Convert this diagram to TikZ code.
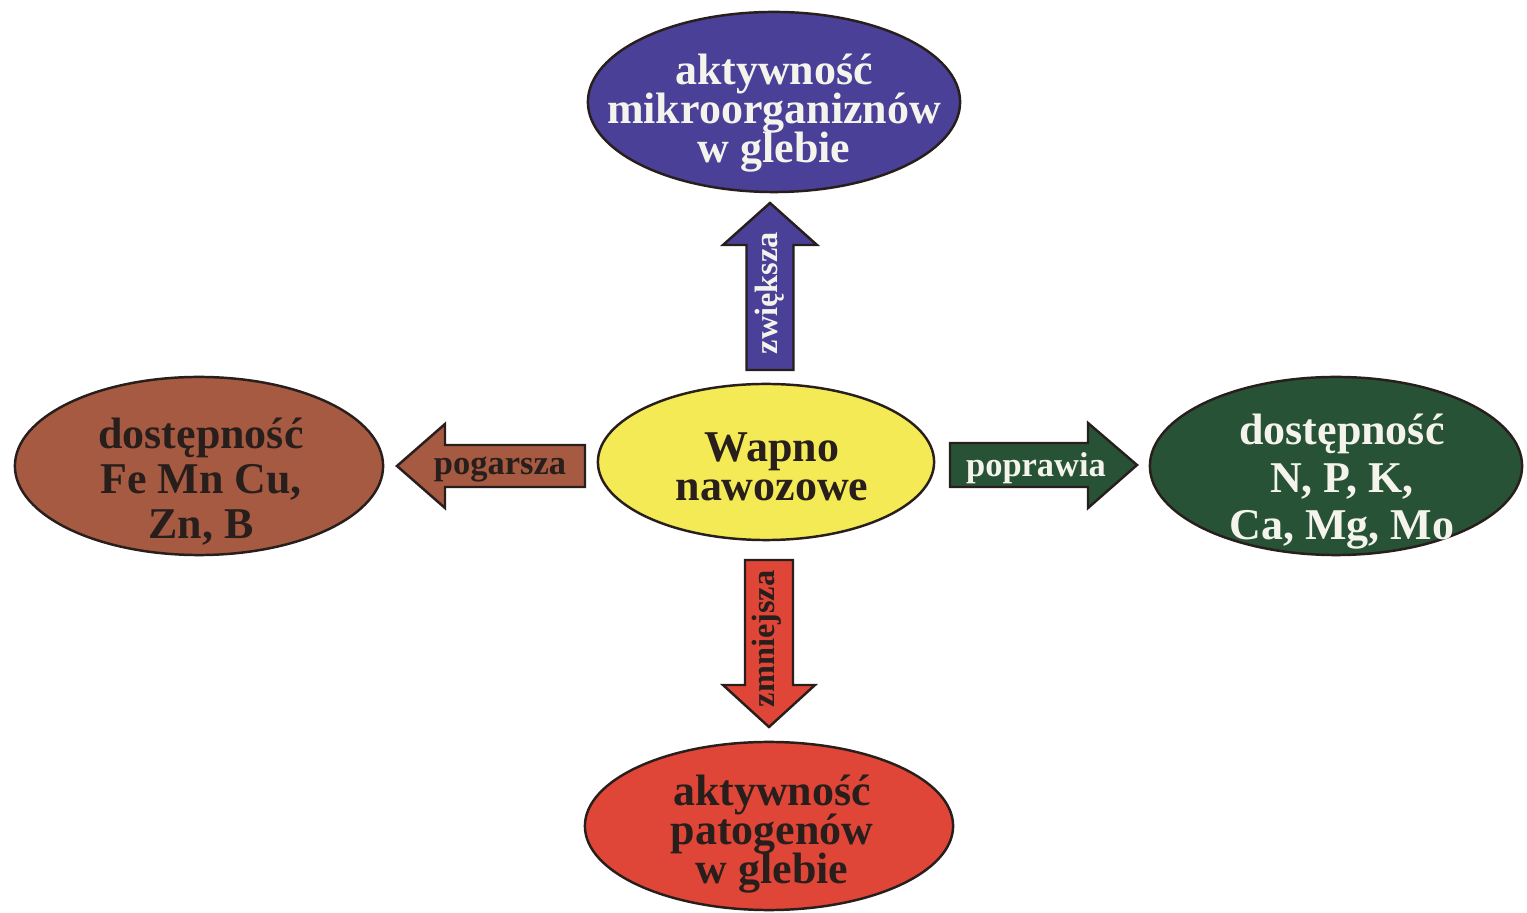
\documentclass[tikz,border=0pt]{standalone}
\usepackage{fontspec}
\setmainfont{Liberation Serif}
\usetikzlibrary{shapes.geometric,calc}
\definecolor{cblue}{RGB}{74,64,152}
\definecolor{cyellow}{RGB}{243,234,85}
\definecolor{cbrown}{RGB}{166,90,66}
\definecolor{cgreen}{RGB}{40,82,54}
\definecolor{cred}{RGB}{224,70,56}
\definecolor{cdark}{RGB}{40,30,28}
\definecolor{clight}{RGB}{244,244,236}
\newcommand{\txtfont}[1]{\fontsize{12.5}{#1}\selectfont\bfseries\lineskiplimit=-50pt\relax}
\tikzset{
  bubble/.style={ellipse, draw=cdark, line width=0.7pt, inner sep=0pt},
  bubbletext/.style={align=center, inner sep=0pt},
  blockarrow/.style={draw=cdark, line width=0.7pt, line join=miter},
  arrowlabel/.style={inner sep=0pt, font=\fontsize{9.8}{11}\selectfont\bfseries},
}
\begin{document}
\begin{tikzpicture}[x=0.01cm,y=-0.01cm]
\useasboundingbox (0,0) rectangle (1527,913);
\fill[white] (0,0) rectangle (1527,913);

% ellipses
\node[bubble, fill=cblue, minimum width=3.72cm, minimum height=1.80cm] (top) at (774,102) {};
\node[bubble, fill=cyellow, minimum width=3.36cm, minimum height=1.56cm] (mid) at (766,462) {};
\node[bubble, fill=cbrown, minimum width=3.68cm, minimum height=1.78cm] (left) at (199,466) {};
\node[bubble, fill=cgreen, minimum width=3.72cm, minimum height=1.78cm] (right) at (1336,466) {};
\node[bubble, fill=cred, minimum width=3.68cm, minimum height=1.68cm] (bot) at (769,826) {};

% texts
\node[bubbletext, text=clight, font=\txtfont{11}] (toptxt) at (774,113)
  {aktywność\\mikroorganiznów\\w glebie};
\node[bubbletext, text=cdark, font=\txtfont{11}] (midtxt) at (772,467)
  {Wapno\\nawozowe};
\node[bubbletext, text=cdark, font=\txtfont{12.8}] (lefttxt) at (201,482)
  {dostępność\\Fe Mn Cu,\\Zn, B};
\node[bubbletext, text=clight, font=\txtfont{13.5}] (righttxt) at (1342,482)
  {dostępność\\N, P, K,\\Ca, Mg, Mo};
\node[bubbletext, text=cdark, font=\txtfont{11}] (bottxt) at (772,834)
  {aktywność\\patogenów\\w glebie};

% arrow end points
\coordinate (upA) at (770,370);  \coordinate (upB) at (770,203);
\coordinate (dnA) at (769,560);  \coordinate (dnB) at (769,727);
\coordinate (lfA) at (585,466);  \coordinate (lfB) at (397,466);
\coordinate (rtA) at (950,465);  \coordinate (rtB) at (1137,465);

% up arrow (blue)
\draw[blockarrow, fill=cblue]
  ($(upA)+(-23.5,0)$) -- ($(upB)+(-23.5,42)$) -- ($(upB)+(-47,42)$) -- (upB)
  -- ($(upB)+(47,42)$) -- ($(upB)+(23.5,42)$) -- ($(upA)+(23.5,0)$) -- cycle;
% down arrow (red)
\draw[blockarrow, fill=cred]
  ($(dnA)+(-24,0)$) -- ($(dnB)+(-24,-42)$) -- ($(dnB)+(-46,-42)$) -- (dnB)
  -- ($(dnB)+(46,-42)$) -- ($(dnB)+(24,-42)$) -- ($(dnA)+(24,0)$) -- cycle;
% left arrow (brown)
\draw[blockarrow, fill=cbrown]
  ($(lfA)+(0,-21)$) -- ($(lfB)+(48,-21)$) -- ($(lfB)+(48,-42)$) -- (lfB)
  -- ($(lfB)+(48,42)$) -- ($(lfB)+(48,21)$) -- ($(lfA)+(0,21)$) -- cycle;
% right arrow (green)
\draw[blockarrow, fill=cgreen]
  ($(rtA)+(0,-22)$) -- ($(rtB)+(-49,-22)$) -- ($(rtB)+(-49,-42)$) -- (rtB)
  -- ($(rtB)+(-49,43)$) -- ($(rtB)+(-49,22)$) -- ($(rtA)+(0,22)$) -- cycle;

% arrow labels
\node[arrowlabel, text=clight, rotate=90, font=\fontsize{9.2}{11}\selectfont\bfseries] (lup) at (770,293) {zwiększa};
\node[arrowlabel, text=cdark, rotate=90, font=\fontsize{9.2}{11}\selectfont\bfseries] (ldn) at (767,639) {zmniejsza};
\node[arrowlabel, text=cdark] (llf) at (500,469) {pogarsza};
\node[arrowlabel, text=clight] (lrt) at (1036,468) {poprawia};
\end{tikzpicture}
\end{document}
